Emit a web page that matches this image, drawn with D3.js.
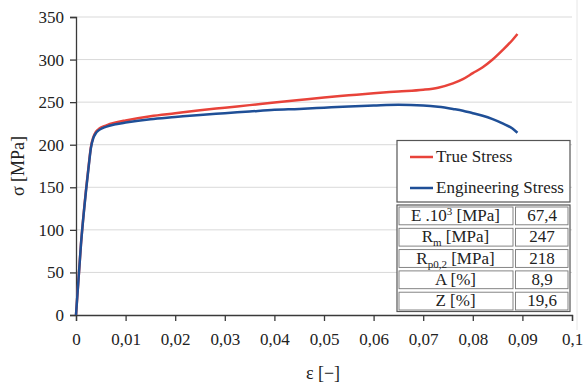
<!DOCTYPE html>
<html><head><meta charset="utf-8">
<script src="https://cdn.jsdelivr.net/npm/d3@7"></script>
</head><body style="margin:0">
<svg id="c" width="583" height="385" font-family="Liberation Serif"></svg>
<script>
const strain = [0,0.001,0.002,0.0027,0.003,0.0035,0.004,0.0045,0.005,0.006,0.008,0.01,0.015,0.02,0.025,0.03,0.035,0.04,0.045,0.05,0.055,0.06,0.065,0.07,0.073,0.076,0.078,0.08,0.082,0.084,0.086,0.088,0.089];
const trueStress = [0,83,146,183,197,209,215,218,220,222.5,226,228.5,233.5,237,240.5,243.5,246.5,249.5,252.5,255.5,258,260.5,262.5,264.5,267,272,277,284,291,300,311,323,330];
const engStress = [0,83,145,182,196,208,213.5,216.5,218.5,221,224,226,230,232.5,235,237,239,241,242,243.5,245,246,246.8,246,244.5,242,240,237,234,230,225,219,214];
const xTicks = [0,0.01,0.02,0.03,0.04,0.05,0.06,0.07,0.08,0.09,0.1];
const xTickLabels = ["0","0,01","0,02","0,03","0,04","0,05","0,06","0,07","0,08","0,09","0,1"];
const yTicks = [0,50,100,150,200,250,300,350];
const seriesNames = ["True Stress","Engineering Stress"];
const seriesColors = ["#e8433a","#1f4f97"];
const tableLabels = [["E .10","3"," [MPa]","super"],["R","m"," [MPa]","sub"],["R","p0,2"," [MPa]","sub"],["A [%]","","",""],["Z [%]","","",""]];
const tableValues = ["67,4","247","218","8,9","19,6"];

const FONT = "Liberation Serif";
const svg = d3.select("#c");
const x = d3.scaleLinear().domain([0,0.1]).range([76,572]);
const y = d3.scaleLinear().domain([0,350]).range([315,17]);

svg.append("line").attr("x1",577).attr("x2",577).attr("y1",0).attr("y2",330).attr("stroke","#e6e6e6");

svg.append("g").selectAll("line").data(yTicks.slice(1)).join("line")
  .attr("x1",76).attr("x2",572).attr("y1",d=>y(d)).attr("y2",d=>y(d))
  .attr("stroke","#d9d9d9").attr("stroke-width",1);

const xa = svg.append("g").attr("transform","translate(0,315)")
  .call(d3.axisBottom(x).tickValues(xTicks).tickFormat((d,i)=>xTickLabels[i]).tickSize(6).tickPadding(12));
const ya = svg.append("g").attr("transform","translate(76,0)")
  .call(d3.axisLeft(y).tickValues(yTicks).tickSize(6).tickPadding(6));
[xa,ya].forEach(a=>{
  a.attr("font-family",FONT).attr("font-size",17);
  a.selectAll("path,line").attr("stroke","#3a3a3a").attr("stroke-width",1.3);
  a.selectAll("text").attr("font-family",FONT).attr("font-size",17).attr("fill","#222");
});

const line = d3.line().x(d=>x(d[0])).y(d=>y(d[1])).curve(d3.curveMonotoneX);
[trueStress,engStress].forEach((s,i)=>{
  svg.append("path").datum(strain.map((e,j)=>[e,s[j]]))
    .attr("d",line).attr("fill","none").attr("stroke",seriesColors[i]).attr("stroke-width",2.5);
});

function txt(sel,size){ return sel.attr("font-family",FONT).attr("font-size",size).attr("fill","#222"); }

txt(svg.append("text"),18).attr("transform","translate(24,166) rotate(-90)").attr("text-anchor","middle").text("σ [MPa]");
txt(svg.append("text"),18).attr("x",323).attr("y",379).attr("text-anchor","middle").text("ε [−]");

const lg = svg.append("g");
lg.append("rect").attr("x",397).attr("y",140.5).attr("width",173).attr("height",61.5)
  .attr("fill","#fff").attr("stroke","#555").attr("stroke-width",1.2);
seriesNames.forEach((n,i)=>{
  const cy = 157 + i*31;
  lg.append("line").attr("x1",410).attr("x2",433).attr("y1",cy).attr("y2",cy)
    .attr("stroke",seriesColors[i]).attr("stroke-width",2.5);
  txt(lg.append("text"),17).attr("x",436).attr("y",cy+5).text(n);
});

const tg = svg.append("g");
const tx0 = 397, tx1 = 514, tx2 = 570, ty0 = 205, rh = 21.3;
tg.append("rect").attr("x",tx0).attr("y",ty0).attr("width",tx2-tx0).attr("height",rh*5)
  .attr("fill","#fff").attr("stroke","#555").attr("stroke-width",1.2);
tableLabels.forEach((lab,i)=>{
  const yy = ty0 + i*rh;
  tg.append("rect").attr("x",tx0+2).attr("y",yy+2).attr("width",tx1-tx0-3).attr("height",rh-3.5)
    .attr("fill","none").attr("stroke","#777").attr("stroke-width",0.9);
  tg.append("rect").attr("x",tx1+1.5).attr("y",yy+2).attr("width",tx2-tx1-3.5).attr("height",rh-3.5)
    .attr("fill","none").attr("stroke","#777").attr("stroke-width",0.9);
  const t = txt(tg.append("text"),17).attr("x",(tx0+tx1)/2).attr("y",yy+16).attr("text-anchor","middle");
  t.append("tspan").text(lab[0]);
  if (lab[1]) {
    t.append("tspan").attr("dy", lab[3]==="super" ? -6 : 4).attr("font-size",11).text(lab[1]);
    t.append("tspan").attr("dy", lab[3]==="super" ? 6 : -4).text(lab[2]);
  }
  txt(tg.append("text"),17).attr("x",(tx1+tx2)/2).attr("y",yy+16).attr("text-anchor","middle").text(tableValues[i]);
});
</script>
</body></html>
